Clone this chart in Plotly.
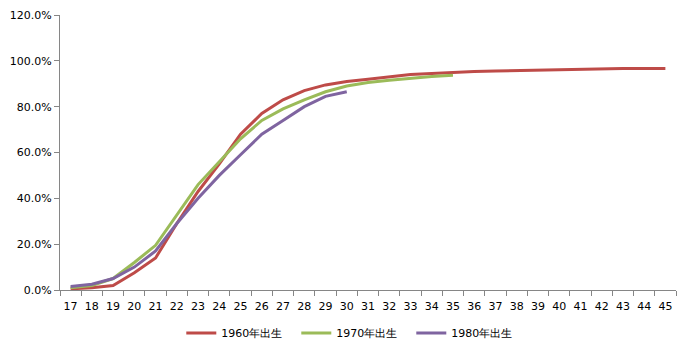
import plotly.graph_objects as go

ages = [str(a) for a in range(17, 46)]

s1960 = [0.005, 0.010, 0.020, 0.075, 0.140, 0.290, 0.430, 0.550, 0.680, 0.770, 0.830, 0.870, 0.895,
         0.910, 0.920, 0.930, 0.940, 0.945, 0.950, 0.953, 0.956, 0.958, 0.961, 0.962, 0.963, 0.966,
         0.967, 0.967, 0.967]
s1970 = [0.010, 0.020, 0.050, 0.120, 0.195, 0.330, 0.460, 0.560, 0.660, 0.740, 0.790, 0.830, 0.865,
         0.890, 0.905, 0.915, 0.925, 0.932, 0.937]
s1980 = [0.015, 0.025, 0.050, 0.100, 0.170, 0.290, 0.400, 0.500, 0.590, 0.680, 0.740, 0.800, 0.845,
         0.865]

names = ["1960年出生", "1970年出生", "1980年出生"]
colors = ["#BE4B48", "#9BBB59", "#7F64A0"]
series = [s1960, s1970, s1980]

fig = go.Figure()
for name, vals, col in zip(names, series, colors):
    fig.add_trace(go.Scatter(
        x=ages[:len(vals)], y=vals, mode="lines", name=name,
        line=dict(color=col, width=3),
    ))

font = "DejaVu Sans, Verdana, sans-serif"
fig.update_layout(
    width=691, height=356,
    margin=dict(l=60, r=15, t=15, b=66, autoexpand=False),
    paper_bgcolor="white", plot_bgcolor="white",
    font=dict(family=font, size=11, color="#000000"),
    showlegend=True,
    legend=dict(orientation="h", x=0.512, xanchor="center", xref="container",
                y=1 - 333 / 356, yanchor="middle", yref="container",
                itemwidth=30, font=dict(size=11), entrywidth=70),
    xaxis=dict(type="category", categoryorder="array", categoryarray=ages,
               range=[-0.5, 28.5], showgrid=False, showline=True, tickangle=0,
               linecolor="#868686", linewidth=1, ticks="outside", tickson="boundaries",
               ticklen=5, tickcolor="#868686", zeroline=False, fixedrange=True,
               automargin=False, ticklabelstandoff=6),
    yaxis=dict(range=[0, 1.2], tickvals=[0, 0.2, 0.4, 0.6, 0.8, 1.0, 1.2],
               tickformat=".1%", showgrid=False, showline=True, linecolor="#868686",
               linewidth=1, ticks="outside", ticklen=5, tickcolor="#868686",
               zeroline=False, fixedrange=True, automargin=False),
)

fig.write_html("out.html", config={"displayModeBar": False},
               post_script="document.body.style.margin='0px';")
